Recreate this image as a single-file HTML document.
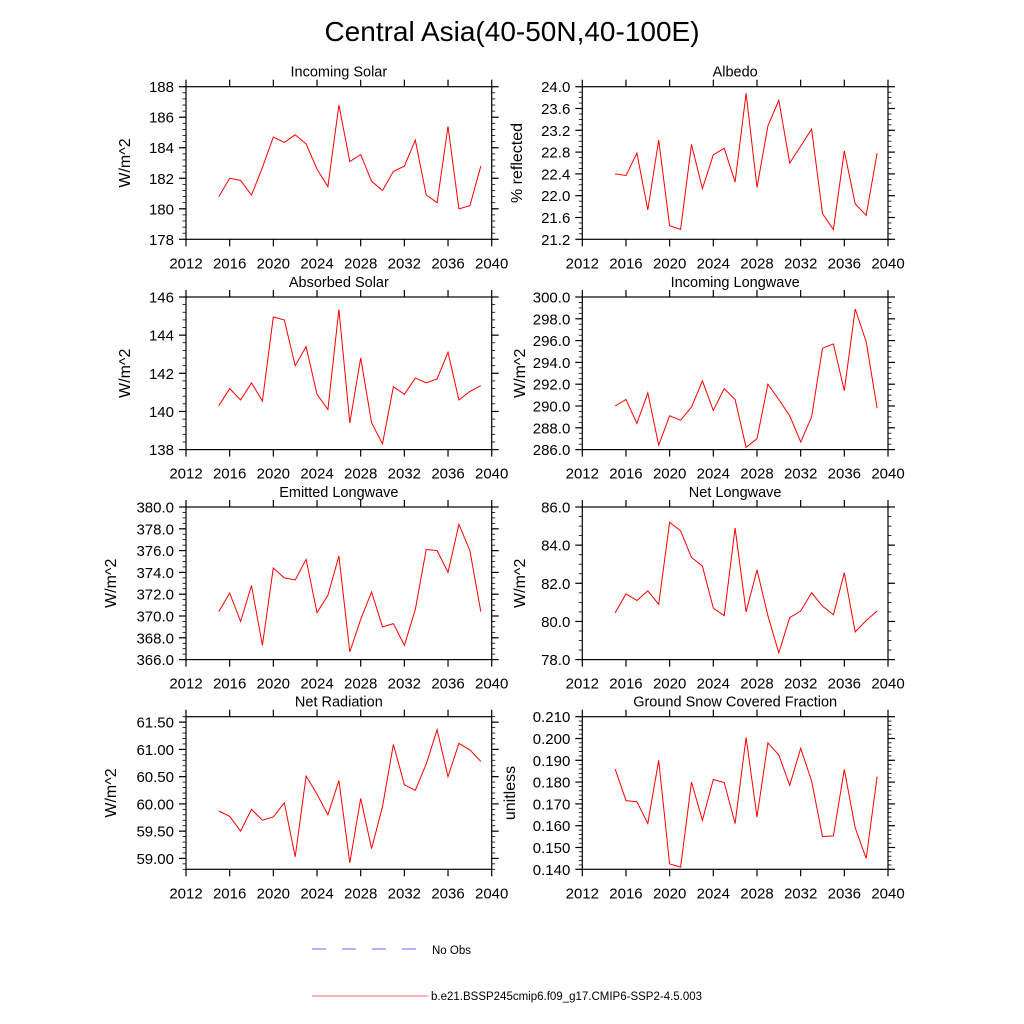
<!DOCTYPE html>
<html><head><meta charset="utf-8"><style>
html,body{margin:0;padding:0;background:#fff;}
svg{display:block;font-family:"Liberation Sans",sans-serif;}
</style></head><body>
<svg id="chart" width="1024" height="1024" viewBox="0 0 1024 1024" xmlns="http://www.w3.org/2000/svg">
<rect x="0" y="0" width="1024" height="1024" fill="#fff"/>
<text x="512" y="41" font-size="28" text-anchor="middle">Central Asia(40-50N,40-100E)</text>
<g id="panels"></g>
<g>
<line x1="312" y1="949" x2="420" y2="949" stroke="#6666ff" stroke-width="0.9" stroke-dasharray="14,16"/>
<text x="432" y="954" font-size="11.5">No Obs</text>
<line x1="312" y1="996" x2="428" y2="996" stroke="#ff6666" stroke-width="0.9"/>
<text x="431" y="1000" font-size="11.5">b.e21.BSSP245cmip6.f09_g17.CMIP6-SSP2-4.5.003</text>
</g>
</svg>
<script>
const years = [2015,2016,2017,2018,2019,2020,2021,2022,2023,2024,2025,2026,2027,2028,2029,2030,2031,2032,2033,2034,2035,2036,2037,2038,2039];
const xTicks = [2012,2016,2020,2024,2028,2032,2036,2040];
const incomingSolar = [180.8,182.0,181.85,180.9,182.7,184.7,184.35,184.85,184.25,182.6,181.45,186.8,183.1,183.55,181.8,181.2,182.45,182.8,184.5,180.9,180.4,185.4,180.0,180.2,182.8];
const albedo = [22.4,22.37,22.78,21.74,23.02,21.45,21.38,22.94,22.13,22.75,22.87,22.25,23.88,22.15,23.28,23.75,22.6,22.91,23.22,21.67,21.38,22.82,21.85,21.64,22.78];
const absorbedSolar = [140.3,141.2,140.6,141.5,140.55,144.95,144.8,142.4,143.4,140.9,140.1,145.35,139.4,142.8,139.4,138.3,141.3,140.9,141.75,141.5,141.7,143.1,140.6,141.05,141.35];
const incomingLW = [290.0,290.6,288.4,291.2,286.4,289.1,288.7,289.9,292.3,289.6,291.6,290.6,286.2,287.0,292.0,290.6,289.1,286.7,289.0,295.3,295.7,291.4,298.9,295.9,289.8];
const emittedLW = [370.4,372.1,369.5,372.8,367.3,374.4,373.5,373.3,375.2,370.3,371.9,375.5,366.7,369.7,372.2,369.0,369.3,367.3,370.6,376.1,376.0,374.0,378.4,376.0,370.4];
const netLW = [80.45,81.45,81.1,81.6,80.9,85.2,84.75,83.35,82.9,80.7,80.3,84.9,80.5,82.7,80.3,78.35,80.2,80.55,81.5,80.8,80.35,82.55,79.45,80.05,80.55];
const netRad = [59.87,59.77,59.50,59.90,59.70,59.76,60.02,59.03,60.51,60.18,59.80,60.43,58.92,60.10,59.18,59.95,61.09,60.35,60.25,60.73,61.36,60.50,61.11,60.99,60.78];
const snowFrac = [0.186,0.1715,0.171,0.161,0.190,0.1425,0.141,0.180,0.1625,0.1812,0.1798,0.161,0.2005,0.164,0.198,0.1925,0.1785,0.1955,0.1805,0.155,0.1553,0.1858,0.159,0.145,0.1825];

const panels = [
 {name:'incoming-solar',title:'Incoming Solar',ylab:'W/m^2',data:incomingSolar,ymin:178,ymax:188,step:2,minor:0.4,dec:0,x0:186,y0:86.7,labx:130},
 {name:'albedo',title:'Albedo',ylab:'% reflected',data:albedo,ymin:21.2,ymax:24.0,step:0.4,minor:0.1,dec:1,x0:582.3,y0:86.7,labx:522},
 {name:'absorbed-solar',title:'Absorbed Solar',ylab:'W/m^2',data:absorbedSolar,ymin:138,ymax:146,step:2,minor:0.4,dec:0,x0:186,y0:297,labx:130},
 {name:'incoming-longwave',title:'Incoming Longwave',ylab:'W/m^2',data:incomingLW,ymin:286,ymax:300,step:2,minor:0.5,dec:1,x0:582.3,y0:297,labx:525},
 {name:'emitted-longwave',title:'Emitted Longwave',ylab:'W/m^2',data:emittedLW,ymin:366,ymax:380,step:2,minor:0.5,dec:1,x0:186,y0:507,labx:116},
 {name:'net-longwave',title:'Net Longwave',ylab:'W/m^2',data:netLW,ymin:78,ymax:86,step:2,minor:0.5,dec:1,x0:582.3,y0:507,labx:525},
 {name:'net-radiation',title:'Net Radiation',ylab:'W/m^2',data:netRad,ymin:58.8,ymax:61.6,step:0.5,minor:0.1,dec:2,x0:186,y0:716.7,labx:116,t0:59.0},
 {name:'snow-fraction',title:'Ground Snow Covered Fraction',ylab:'unitless',data:snowFrac,ymin:0.140,ymax:0.210,step:0.010,minor:0.002,dec:3,x0:582.3,y0:716.7,labx:515}
];
const W=305.7, H=152.6, NS='http://www.w3.org/2000/svg';
const root=document.getElementById('panels');
function mk(tag,attrs,parent){const e=document.createElementNS(NS,tag);for(const k in attrs)e.setAttribute(k,attrs[k]);parent.appendChild(e);return e;}
panels.forEach(p=>{
  const g=mk('g',{},root);
  
  
  const xs=v=>p.x0+(v-2012)/28*W;
  const ys=v=>p.y0+H-(v-p.ymin)/(p.ymax-p.ymin)*H;
  const ax=mk('g',{stroke:'#000','stroke-width':1.2},g);
  
  
  mk('rect',{x:p.x0,y:p.y0,width:W,height:H,fill:'none'},ax);
  xTicks.forEach(t=>{
    const x=xs(t);
    mk('line',{x1:x,y1:p.y0+H,x2:x,y2:p.y0+H+7},ax);
    mk('line',{x1:x,y1:p.y0,x2:x,y2:p.y0-7},ax);
    const tl=mk('text',{x:x,y:p.y0+H+29,'font-size':15,'text-anchor':'middle',stroke:'none',fill:'#000'},g);
    tl.textContent=t;
    
    
  });
  const nmin=Math.round((p.ymax-p.ymin)/p.minor);
  for(let i=0;i<=nmin;i++){
    const v=p.ymin+i*p.minor, y=ys(v);
    mk('line',{x1:p.x0,y1:y,x2:p.x0-3.5,y2:y,'stroke-width':0.8},ax);
    mk('line',{x1:p.x0+W,y1:y,x2:p.x0+W+3.5,y2:y,'stroke-width':0.8},ax);
  }
  const t0=p.t0!==undefined?p.t0:p.ymin;
  const nmaj=Math.round((p.ymax-t0)/p.step+1e-6);
  for(let i=0;i<=nmaj;i++){
    const v=t0+i*p.step; if(v>p.ymax+1e-9)break;
    const y=ys(v);
    mk('line',{x1:p.x0,y1:y,x2:p.x0-7,y2:y},ax);
    mk('line',{x1:p.x0+W,y1:y,x2:p.x0+W+7,y2:y},ax);
    const tl=mk('text',{x:p.x0-12,y:y+5.5,'font-size':15,'text-anchor':'end',fill:'#000'},g);
    tl.textContent=v.toFixed(p.dec);
    
    
  }
  const tt=mk('text',{x:p.x0+W/2,y:p.y0-10,'font-size':14.5,'text-anchor':'middle'},g);
  tt.textContent=p.title;
  
  
  const yl=mk('text',{x:0,y:0,'font-size':16,'text-anchor':'middle',transform:`translate(${p.labx},${p.y0+H/2}) rotate(-90)`},g);
  yl.textContent=p.ylab;
  
  
  const pts=p.data.map((v,i)=>xs(years[i]).toFixed(1)+','+ys(v).toFixed(1)).join(' ');
  const ln=mk('polyline',{points:pts,fill:'none',stroke:'#ff0000','stroke-width':1},g);
  
  
});
</script>
</body></html>
